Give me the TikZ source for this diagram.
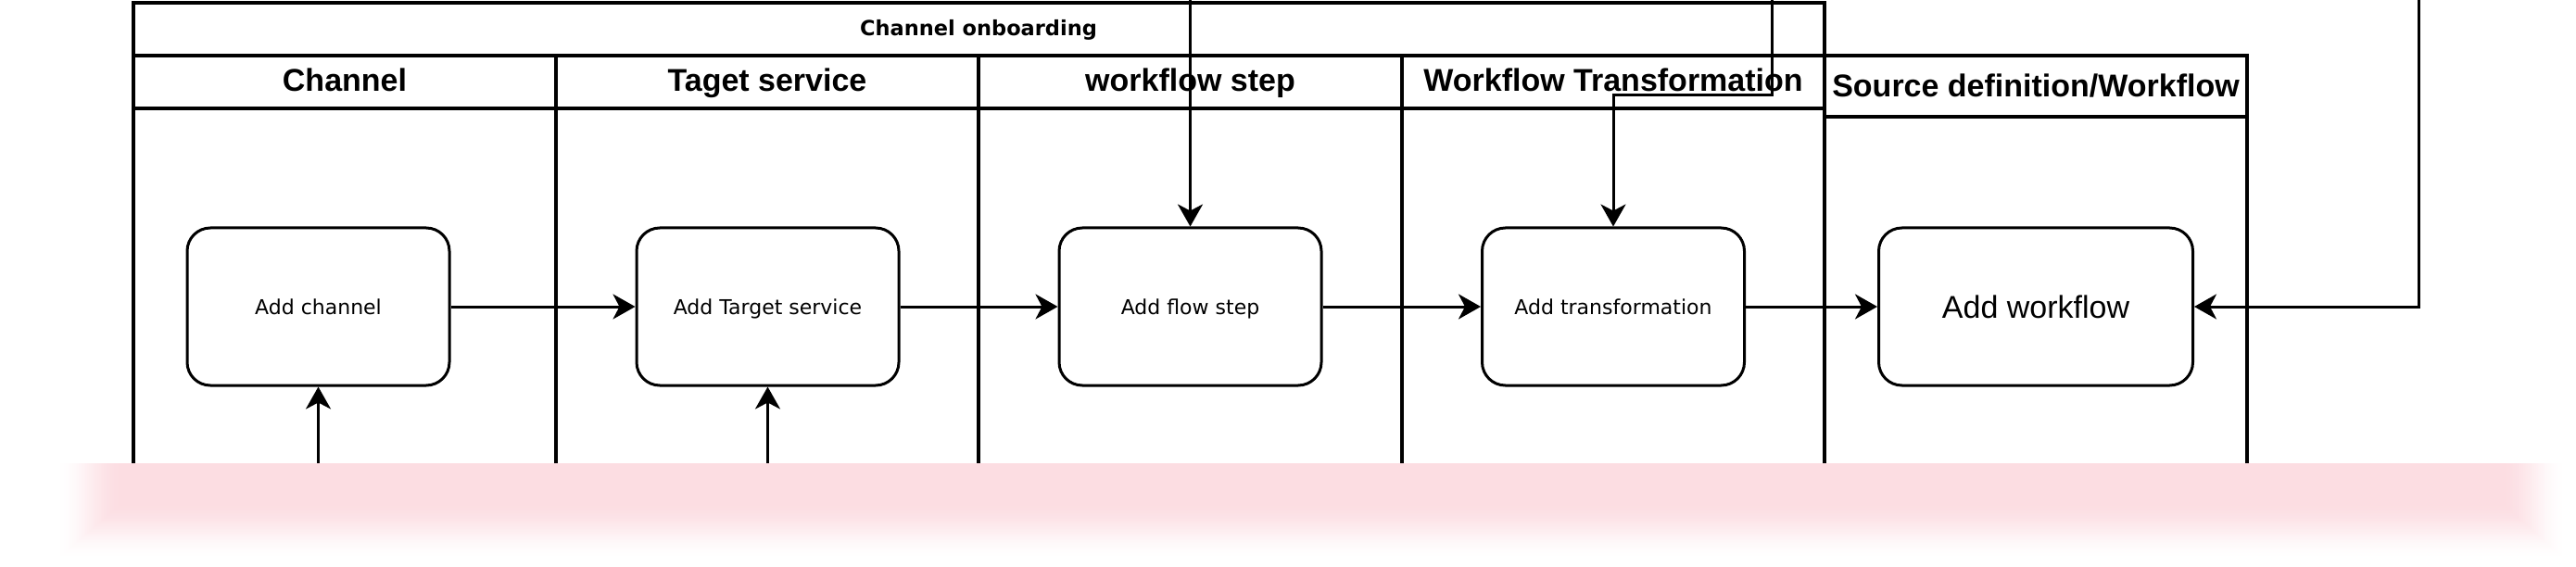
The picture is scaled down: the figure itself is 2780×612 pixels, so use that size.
\documentclass[tikz,border=0pt]{standalone}
\usepackage{fontspec}
\setmainfont{Liberation Sans}
\newfontfamily\dvs{DejaVu Sans}
\usetikzlibrary{arrows.meta}
\definecolor{bandpink}{RGB}{252,221,226}
\begin{document}
\begin{tikzpicture}[x=1pt,y=-1pt,
  lane/.style={line width=3.5pt, line cap=rect},
  box/.style={draw, line width=3pt, rounded corners=25pt, fill=white,
    minimum width=283pt, minimum height=170pt, inner sep=0pt,
    font=\dvs\fontsize{22}{26}\selectfont, text depth=0pt},
  bigbox/.style={box, minimum width=339pt, font=\fontsize{34}{40}\selectfont},
  hdr/.style={font=\bfseries\fontsize{34}{40}\selectfont, anchor=base, inner sep=0pt},
  ttl/.style={font=\dvs\bfseries\fontsize{22.5}{27}\selectfont, anchor=base, inner sep=0pt},
  conn/.style={line width=3pt, -{Stealth[length=24pt,width=27pt,inset=7pt]}}]
\useasboundingbox (0,0) rectangle (2780,612);

% pool and lanes
\draw[lane] (144,505) -- (144,3) -- (1969,3) -- (1969,505);
\draw[lane] (144,60) -- (1969,60);
\draw[lane] (144,117) -- (1969,117);
\draw[lane] (600,60) -- (600,505);
\draw[lane] (1056,60) -- (1056,505);
\draw[lane] (1513,60) -- (1513,505);
\draw[lane] (1969,60) -- (2425,60) -- (2425,505);
\draw[lane] (1969,126) -- (2425,126);

% texts
\node[ttl] (title) at (1056,39) {Channel onboarding};
\node[hdr] (h1) at (372,99) {Channel};
\node[hdr] (h2) at (828,99) {Taget service};
\node[hdr] (h3) at (1284.5,99) {workflow step};
\node[hdr] (h4) at (1741,99) {Workflow Transformation};
\node[hdr] (h5) at (2197,105) {Source definition/Workflow};

% boxes
\node[box] (ch) at (343.5,331) {Add channel};
\node[box] (ts) at (828.5,331) {Add Target service};
\node[box] (fs) at (1284.5,331) {Add flow step};
\node[box] (tr) at (1741,331) {Add transformation};
\node[bigbox] (wf) at (2197,331) {Add workflow};

% connector ends
\coordinate (chin) at (343.5,505);
\coordinate (tsin) at (828.5,505);
\coordinate (fsin) at (1284.5,0);
\coordinate (trin) at (1912,0);
\coordinate (trbend) at (1912,103);
\coordinate (wfin) at (2610,0);

\draw[conn] (ch.east) -- (ts.west);
\draw[conn] (ts.east) -- (fs.west);
\draw[conn] (fs.east) -- (tr.west);
\draw[conn] (tr.east) -- (wf.west);
\draw[conn] (chin) -- (ch.south);
\draw[conn] (tsin) -- (ts.south);
\draw[conn] (fsin) -- (fs.north);
\draw[conn] (trin) -- (trbend) -| (tr.north);
\draw[conn] (wfin) |- (wf.east);

% pink band (blurred edges by nested steps)
\fill[white] (40,500) rectangle (2780,612);
\foreach \i in {1,...,40} {
  \pgfmathsetmacro\t{\i/40}
  \pgfmathsetmacro\p{100*(3*\t*\t-2*\t*\t*\t)}
  \fill[bandpink!\p!white] (60+1.8*\i,500) rectangle (2770-1.75*\i,605-1.55*\i);
}
\end{tikzpicture}
\end{document}
